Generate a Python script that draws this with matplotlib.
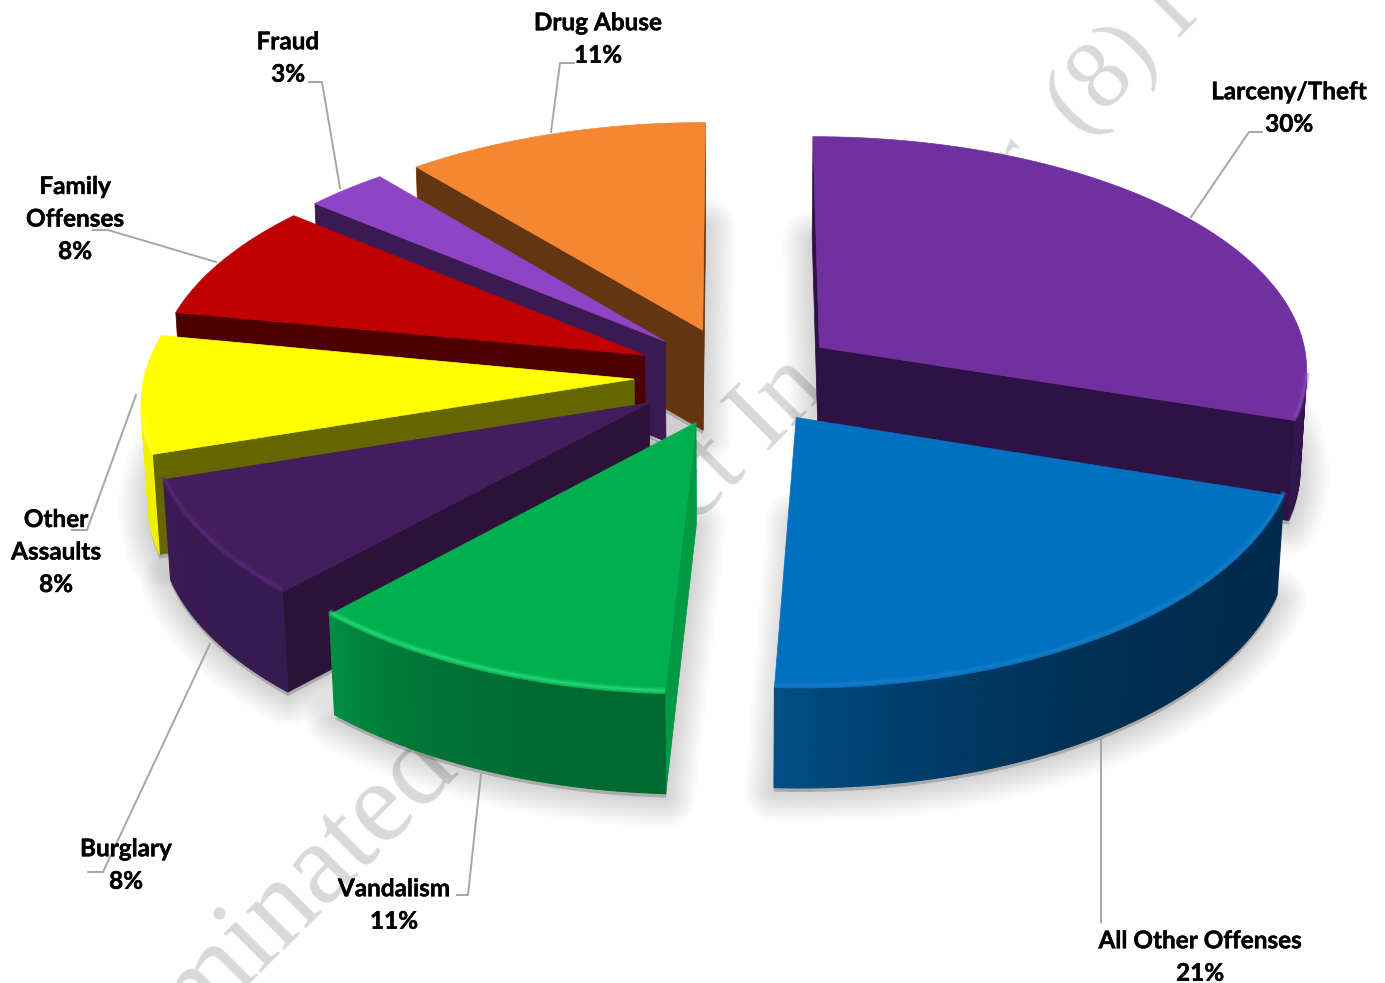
#!/usr/bin/env python3

import numpy as np
import matplotlib
matplotlib.use('Agg')
import matplotlib.pyplot as plt
import matplotlib.patheffects as pe

# Data, clockwise from 12 o'clock (labels show the rounded share)
categories = ['Larceny/Theft', 'All Other\u00a0Offenses', 'Vandalism', 'Burglary',
              'Other\nAssaults', 'Family\nOffenses', 'Fraud', 'Drug Abuse']
shares = [30.0, 20.8, 11.2, 8.0, 8.0, 8.0, 3.0, 11.0]

# Colours: top, outer wall (near end, far end), radial wall
top_colors = ['#7030A0', '#0070C0', '#00B050', '#441D5E', '#FFFF00', '#C00000', '#8E44C4', '#F58632']
outer_a = ['#331650', '#004F86', '#008F42', '#3A1A52', '#E8E800', '#7A0000', '#5A2A80', '#A05520']
outer_b = ['#2E1243', '#002B4E', '#006A30', '#371A50', '#F0F000', '#600000', '#3A1A50', '#804010']
side_colors = ['#2E1243', '#002E54', '#009A45', '#2C1239', '#666600', '#4C0000', '#3A1A50', '#633510']
rim_colors = ['#8A48BC', '#1A80C8', '#30E080', '#5A2C7C', '#FFFF40', '#D82020', '#A060D8', '#FFA050']

# Draw order, back to front
draw_order = [7, 6, 5, 4, 3, 0, 2, 1]

# Label positions in pixels
label_xy = [(1289, 108), (1200, 957), (394, 905), (126, 865),
            (56, 552), (75, 219), (288, 58), (598, 39)]
leaders = [
    [(1191, 217), (1249, 132), (1262, 132)],
    [(1101, 740), (1101, 922)],
    [(481, 774), (468, 895), (457, 895)],
    [(210, 644), (103, 872), (88, 872)],
    [(136, 395), (87, 530), (72, 530)],
    [(216, 262), (108, 230), (93, 230)],
    [(340, 188), (322, 82), (309, 82)],
    [(551, 132), (560, 63), (574, 63)],
]

# Projection settings
CX, CY = 737, 376
A, B = 490, 236
PERSP_X = 0.085
PERSP_Y = 0.096
DEPTH = 100
EXPLODE = 0.21


def project(x, y, z=0.0):
    # z=0 top of the pie, z=1 bottom
    sx = CX + A * x / (1 + PERSP_X * y + 0.012 * z)
    sy = CY - B * y / (1 + PERSP_Y * y) + DEPTH * z
    return sx, sy


def faces_viewer(poly):
    # walls are listed along the clockwise outline, screen y points down
    xs, ys = np.array(poly).T
    return 0.5 * np.sum(xs * np.roll(ys, -1) - np.roll(xs, -1) * ys) < 0


def mix(c1, c2, t):
    c1, c2 = np.array(matplotlib.colors.to_rgb(c1)), np.array(matplotlib.colors.to_rgb(c2))
    return tuple(c1 + (c2 - c1) * t)


fig = plt.figure(figsize=(13.85, 9.83), dpi=100)
ax = fig.add_axes([0, 0, 1, 1])
ax.set_xlim(0, 1385)
ax.set_ylim(983, 0)
ax.axis('off')

# Watermark pieces showing between the slices
wm = dict(family='Liberation Serif', color='#d9d9d9', rotation=45,
          rotation_mode='anchor', ha='left', va='baseline', zorder=1)
ax.text(195, 1036, 'minated', fontsize=84, clip_on=True, **wm)
ax.text(694, 525, 'ct In', fontsize=76, **wm)
ax.text(1022, 192, 'r', fontsize=70, **wm)
ax.text(1080, 137, '(8) I', fontsize=70, clip_on=True, **wm)

edges = np.cumsum([0] + shares) / sum(shares) * 2 * np.pi
slices = []
for i in range(len(shares)):
    t0, t1 = edges[i], edges[i + 1]
    mid = (t0 + t1) / 2
    ox, oy = EXPLODE * np.sin(mid), EXPLODE * np.cos(mid)
    ts = np.linspace(t0, t1, max(int(shares[i] * 4), 12))
    ring = [(ox + np.sin(t), oy + np.cos(t)) for t in ts]
    slices.append(((ox, oy), ring))

# Soft shadow under everything
for tip, ring in slices:
    foot = [project(*tip, 1)] + [project(*p, 1) for p in ring]
    xs, ys = np.array(foot).T
    for lw in np.arange(4, 46, 3):
        ax.fill(xs, ys + 4, fc=(0, 0, 0, 0.011), ec=(0, 0, 0, 0.011), lw=lw,
                joinstyle='round', zorder=2)

for n, i in enumerate(draw_order):
    tip, ring = slices[i]
    z = 3 + n * 0.1

    # flat radial walls
    first = [project(*tip), project(*ring[0]), project(*ring[0], 1), project(*tip, 1)]
    last = [project(*ring[-1]), project(*tip), project(*tip, 1), project(*ring[-1], 1)]
    for quad in (first, last):
        if faces_viewer(quad):
            ax.fill(*zip(*quad), color=side_colors[i], lw=0.5, zorder=z)

    # outer wall, one strip per arc step; light only near the far end
    k = len(ring) - 1
    front = []
    for j in range(k):
        p, q = ring[j], ring[j + 1]
        quad = [project(*p), project(*q), project(*q, 1), project(*p, 1)]
        if faces_viewer(quad):
            c = mix(outer_b[i], outer_a[i], ((j + 0.5) / k) ** 3)
            ax.fill(*zip(*quad), color=c, lw=0.8, zorder=z + 0.01)
            front += [project(*p), project(*q)]

    # top face and its bevel highlight on the near edge
    top = [project(*tip)] + [project(*p) for p in ring]
    ax.fill(*zip(*top), color=top_colors[i], lw=0.5, zorder=z + 0.02)
    if front:
        rx, ry = zip(*front)
        for lw, al in ((5, 0.2), (3, 0.3), (1.5, 0.5)):
            ax.plot(rx, np.array(ry) - 3, color=rim_colors[i], lw=lw, alpha=al,
                    solid_capstyle='butt', zorder=z + 0.03)

# Leader lines and labels
for pts in leaders:
    ax.plot(*zip(*pts), color='#a6a6a6', lw=1.4, zorder=8)

for name, share, (x, y) in zip(categories, shares, label_xy):
    ax.text(x, y, f'{name}\n{round(share)}%', family='Lato', fontweight='bold', fontsize=17.5,
            color='black', ha='center', va='center', linespacing=1.5, zorder=9,
            path_effects=[pe.withStroke(linewidth=0.3, foreground='black')])

fig.savefig('out.png', dpi=100)
